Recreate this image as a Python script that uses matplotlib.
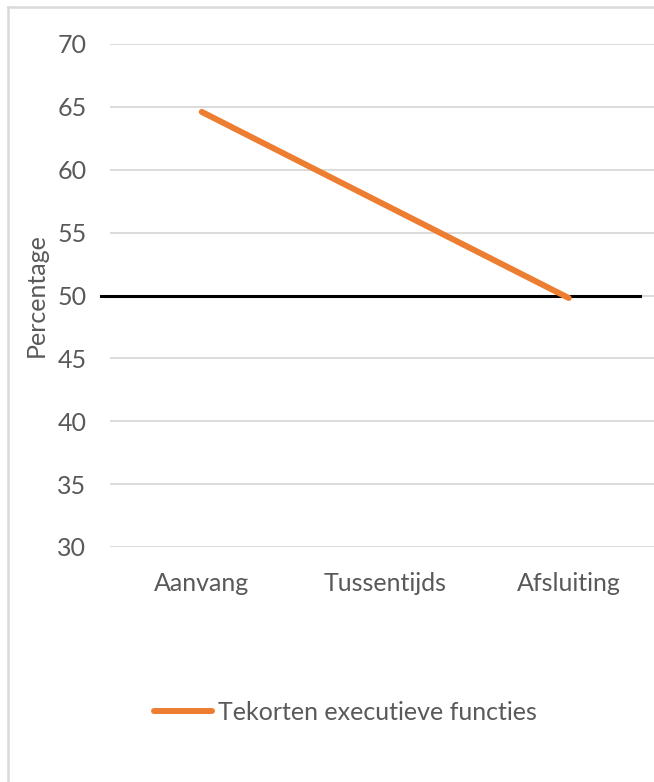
import matplotlib.pyplot as plt
from matplotlib.lines import Line2D

plt.rcParams['font.family'] = ['Lato', 'DejaVu Sans']

categories = ["Aanvang", "Tussentijds", "Afsluiting"]
values = [64.6, 57.2, 49.8]
series_name = "Tekorten executieve functies"
reference_level = 50
y_ticks = [30, 35, 40, 45, 50, 55, 60, 65, 70]

TEXT = '#595959'
GRID = '#d9d9d9'
ORANGE = '#ED7D31'
FS = 18

fig = plt.figure(figsize=(6.54, 7.82), dpi=100)
ax = fig.add_axes([110 / 654, 235 / 782, 550.5 / 654, 503 / 782])

x = list(range(len(categories)))
ax.plot(x, values, color=ORANGE, linewidth=4.3, solid_capstyle='round',
        label=series_name, zorder=3)
# black reference line at 50
ax.plot([-0.55, 2.39], [reference_level, reference_level], color='black',
        linewidth=2.2, clip_on=False, zorder=2)

ax.set_xlim(-0.5, 2.5)
ax.set_ylim(30, 70)
ax.set_yticks(y_ticks)
ax.set_xticks(x)
ax.set_xticklabels(categories)
ax.grid(axis='y', color=GRID, linewidth=1.3)
ax.set_axisbelow(True)
for s in ax.spines.values():
    s.set_visible(False)
ax.tick_params(length=0, labelsize=FS, labelcolor=TEXT)
ax.tick_params(axis='y', pad=17)
ax.tick_params(axis='x', pad=18)
ax.set_ylabel("Percentage", fontsize=FS, color=TEXT, labelpad=7)

leg = fig.legend(handles=[Line2D([0], [0], color=ORANGE, linewidth=4.3, solid_capstyle='round')],
                 labels=[series_name], loc='center left',
                 bbox_to_anchor=(131 / 654, 1 - 712 / 782), frameon=False,
                 fontsize=FS, handlelength=2.35, handletextpad=0.25)
for t in leg.get_texts():
    t.set_color(TEXT)

# chart border (left and top visible)
fig.add_artist(Line2D([8 / 654, 8 / 654], [0, 1 - 7 / 782], color=GRID, linewidth=1.8))
fig.add_artist(Line2D([8 / 654, 1], [1 - 7 / 782, 1 - 7 / 782], color=GRID, linewidth=1.8))

fig.savefig('out.png', dpi=100)
